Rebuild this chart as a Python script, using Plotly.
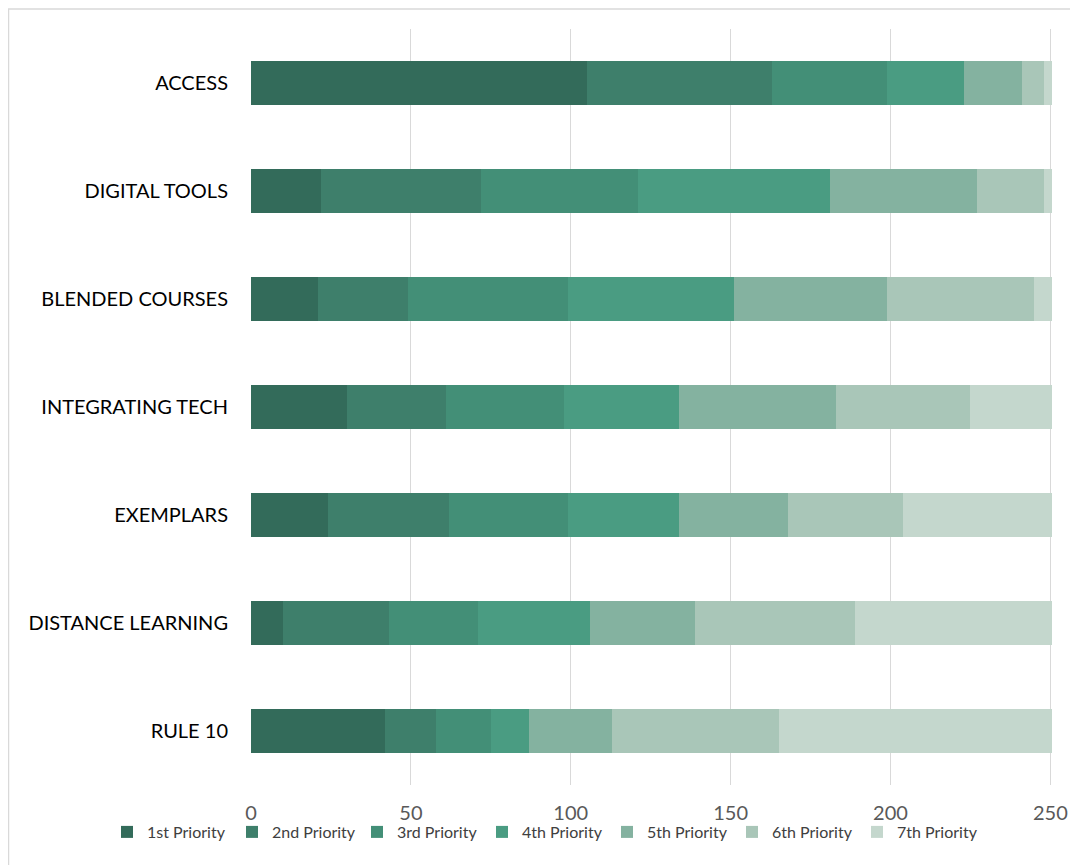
import plotly.graph_objects as go

categories = ["ACCESS", "DIGITAL TOOLS", "BLENDED COURSES", "INTEGRATING TECH",
              "EXEMPLARS", "DISTANCE LEARNING", "RULE 10"]
series_names = ["1st Priority", "2nd Priority", "3rd Priority", "4th Priority",
                "5th Priority", "6th Priority", "7th Priority"]
p1 = [105, 22, 21, 30, 24, 10, 42]
p2 = [58, 50, 28, 31, 38, 33, 16]
p3 = [36, 49, 50, 37, 37, 28, 17]
p4 = [24, 60, 52, 36, 35, 35, 12]
p5 = [18, 46, 48, 49, 34, 33, 26]
p6 = [7, 21, 46, 42, 36, 50, 52]
p7 = [3, 3, 6, 26, 47, 62, 86]
series_values = [p1, p2, p3, p4, p5, p6, p7]
colors = ["#336B5A", "#3E7F6B", "#438F77", "#4A9C82", "#84B2A0", "#A9C6B8", "#C4D7CD"]
tick_vals = [0, 50, 100, 150, 200, 250]

fig = go.Figure()
for name, vals, col in zip(series_names, series_values, colors):
    fig.add_trace(go.Bar(
        y=categories, x=vals, name=name, orientation="h",
        marker=dict(color=col, line=dict(width=0)),
    ))

# page body has an 8px offset
L, R, T, B = 243, 34, 21, 88
W, H = 1078, 865
pw = W - L - R
ph = H - T - B

fig.update_layout(
    width=W, height=H,
    barmode="stack", bargap=0.6,
    margin=dict(l=L, r=R, t=T, b=B, autoexpand=False),
    plot_bgcolor="white", paper_bgcolor="white",
    font=dict(family="Lato, Calibri, sans-serif", color="#000000"),
    xaxis=dict(range=[0, 250.5], tickvals=tick_vals, showgrid=True,
               gridcolor="#D9D9D9", gridwidth=1, zeroline=False,
               tickfont=dict(family="Liberation Sans Narrow, Lato, sans-serif", size=20, color="#595959"),
               ticks="", ticklabelstandoff=14, showline=False, automargin=False),
    yaxis=dict(autorange="reversed", tickfont=dict(size=20, color="#000000"),
               ticks="", ticklabelstandoff=22, showline=False, automargin=False),
    legend=dict(orientation="h", xref="paper", yref="paper",
                x=(99 - L) / pw, xanchor="left",
                y=(H - B - 824) / ph, yanchor="middle",
                font=dict(size=16, color="#404040"), itemwidth=30,
                entrywidth=80, entrywidthmode="pixels",
                traceorder="normal", bgcolor="rgba(0,0,0,0)"),
    shapes=[dict(type="rect", xref="paper", yref="paper",
                 x0=(0.5 - L) / pw, x1=(1090 - L) / pw,
                 y0=(H - B - 880) / ph, y1=(H - B - 1) / ph,
                 line=dict(color="#D9D9D9", width=1.5), layer="below")],
)

fig.write_html("out.html")
